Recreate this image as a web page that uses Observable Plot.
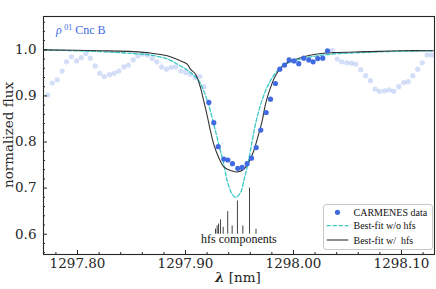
<!DOCTYPE html>
<html><head><meta charset="utf-8">
<script src="https://cdn.jsdelivr.net/npm/d3@7"></script>
<script src="https://cdn.jsdelivr.net/npm/@observablehq/plot@0.6"></script>
<style>
html,body{margin:0;padding:0;background:#fff;}
#chart{width:436px;height:289px;}
</style></head><body><div id="chart"></div>
<script>
// ---- data ----
const paleWl = [1297.7725,1297.7766,1297.7812,1297.7858,1297.7898,1297.7944,1297.7991,1297.8034,1297.8077,1297.8118,1297.8164,1297.8206,1297.8247,1297.8296,1297.8340,1297.8382,1297.8429,1297.8472,1297.8516,1297.8558,1297.8605,1297.8648,1297.8692,1297.8734,1297.8778,1297.8824,1297.8868,1297.8910,1297.8956,1297.9003,1297.9046,1297.9090,1297.9132,1297.9169,
  1298.0358,1298.0405,1298.0447,1298.0494,1298.0537,1298.0577,1298.0623,1298.0669,1298.0713,1298.0756,1298.0796,1298.0843,1298.0886,1298.0929,1298.0975,1298.1021,1298.1062,1298.1105,1298.1151,1298.1192,1298.1238,1298.1281];
const paleFlux = [0.902,0.928,0.935,0.954,0.974,0.985,0.976,0.983,0.992,0.982,0.965,0.949,0.942,0.946,0.949,0.954,0.963,0.967,0.978,0.987,0.991,0.989,0.981,0.974,0.963,0.958,0.962,0.963,0.954,0.951,0.947,0.940,0.942,0.920,
  0.999,0.980,0.974,0.972,0.971,0.969,0.957,0.944,0.933,0.915,0.910,0.911,0.913,0.910,0.920,0.929,0.931,0.944,0.958,0.972,0.989,0.989];

const dataWl = [1297.9216,1297.9262,1297.9303,1297.9355,1297.9392,1297.9435,1297.9484,1297.9525,1297.9571,1297.9611,1297.9655,1297.9697,1297.9747,1297.9787,1297.9833,1297.9873,1297.9917,1297.9960,1298.0006,1298.0049,1298.0095,1298.0142,1298.0182,1298.0225,1298.0271,1298.0315];
const dataFlux = [0.886,0.842,0.790,0.763,0.761,0.753,0.743,0.745,0.753,0.765,0.788,0.826,0.864,0.893,0.927,0.958,0.967,0.978,0.976,0.970,0.982,0.978,0.974,0.981,0.982,0.998];

const fitHfsWl = [1297.7688,1297.8213,1297.8519,1297.8676,1297.8831,1297.8954,1297.9016,1297.9046,1297.9093,1297.9139,1297.9169,1297.9201,1297.9231,1297.9262,1297.9308,1297.9355,1297.9417,1297.9479,1297.9540,1297.9586,1297.9632,1297.9669,1297.9710,1297.9741,1297.9787,1297.9833,1297.9880,1297.9942,1298.0065,1298.0219,1298.0373,1298.0682,1298.0991,1298.1296];
const fitHfsFlux = [1.000,0.998,0.996,0.993,0.987,0.976,0.969,0.958,0.947,0.918,0.889,0.857,0.824,0.795,0.766,0.746,0.738,0.735,0.741,0.756,0.781,0.810,0.846,0.882,0.918,0.944,0.960,0.972,0.983,0.991,0.994,0.996,0.998,0.998];

const fitNoHfsWl = [1297.7685,1297.8213,1297.8519,1297.8676,1297.8831,1297.8954,1297.9046,1297.9123,1297.9169,1297.9216,1297.9262,1297.9308,1297.9355,1297.9386,1297.9432,1297.9463,1297.9509,1297.9540,1297.9577,1297.9618,1297.9648,1297.9688,1297.9741,1297.9787,1297.9849,1297.9926,1298.0065,1298.0219,1298.0373,1298.0528,1298.0833,1298.1296];
const fitNoHfsFlux = [1.000,0.996,0.992,0.9885,0.980,0.965,0.951,0.933,0.911,0.879,0.839,0.795,0.752,0.716,0.687,0.680,0.690,0.716,0.752,0.803,0.839,0.875,0.911,0.933,0.954,0.969,0.980,0.987,0.991,0.993,0.996,0.998];

const hfsWl = [1297.9278,1297.9293,1297.9306,1297.9324,1297.9349,1297.9391,1297.9432,1297.9481,1297.9531,1297.9593,1297.9653];
const hfsStrength = [0.011,0.018,0.022,0.031,0.015,0.049,0.018,0.072,0.018,0.100,0.011];
const hfsBase = 0.60;

const xMajor = [1297.80,1297.90,1298.00,1298.10];
const xMinor = [1297.78,1297.82,1297.84,1297.86,1297.88,1297.92,1297.94,1297.96,1297.98,1298.02,1298.04,1298.06,1298.08,1298.12];
const yMajor = [0.6,0.7,0.8,0.9,1.0];
const yMinor = [0.56,0.58,0.62,0.64,0.66,0.68,0.72,0.74,0.76,0.78,0.82,0.84,0.86,0.88,0.92,0.94,0.96,0.98,1.02,1.04,1.06];

const zip = (xs, ys) => xs.map((x, i) => ({x, y: ys[i]}));
const pale = zip(paleWl, paleFlux);
const obs = zip(dataWl, dataFlux);
const fitHfs = zip(fitHfsWl, fitHfsFlux);
const fitNoHfs = zip(fitNoHfsWl, fitNoHfsFlux);
const hfs = hfsWl.map((x, i) => ({x, s: hfsStrength[i]}));

const BLUE = "#4169e1", CYAN = "#38c7c7", DARK = "#333333", AX = "#262626";
const FONT = "DejaVu Serif";

const chart = Plot.plot({
  width: 436, height: 289,
  marginLeft: 43, marginRight: 2, marginTop: 16, marginBottom: 35,
  style: {fontFamily: FONT, fontSize: "13.5px", color: AX},
  x: {domain: [1297.7685, 1298.1306]},
  y: {domain: [0.556, 1.0723]},
  marks: [
    Plot.dot(pale, {x: "x", y: "y", r: 2.6, fill: BLUE, fillOpacity: 0.22, stroke: "none"}),
    Plot.ruleX(hfs, {x: "x", y1: hfsBase, y2: d => hfsBase + d.s, stroke: "#444", strokeWidth: 1}),
    Plot.text(["hfs components"], {x: 1297.9495, y: 0.589, fontFamily: "Liberation Serif", fontSize: 12, fill: "#111"}),
    Plot.line(fitNoHfs, {x: "x", y: "y", stroke: CYAN, strokeWidth: 1.3, strokeDasharray: "4,2", curve: "catmull-rom"}),
    Plot.line(fitHfs, {x: "x", y: "y", stroke: DARK, strokeWidth: 1.1, curve: "catmull-rom"}),
    Plot.dot(obs, {x: "x", y: "y", r: 2.6, fill: BLUE, stroke: "none"}),
    Plot.axisX({ticks: xMinor, tickSize: -2, text: null, label: null, stroke: AX}),
    Plot.axisX({ticks: xMajor, tickSize: -4, text: null, label: null, stroke: AX}),
    Plot.axisX({ticks: xMajor, tickSize: 0, tickPadding: 4, tickFormat: d3.format(".2f"), label: null, fill: AX}),
    Plot.axisY({ticks: yMinor, tickSize: -2, text: null, label: null, stroke: AX}),
    Plot.axisY({ticks: yMajor, tickSize: -4, text: null, label: null, stroke: AX}),
    Plot.axisY({ticks: yMajor, tickSize: 0, tickPadding: 7, tickFormat: d3.format(".1f"), label: null, fill: AX}),
    Plot.frame({stroke: AX, strokeWidth: 1.1})
  ]
});
document.getElementById("chart").appendChild(chart);

// ---- annotations, axis titles and legend ----
const svg = d3.select(chart);
const star = svg.append("text").attr("x", 56).attr("y", 33.5).attr("text-anchor", "start")
  .attr("font-family", "Liberation Serif").attr("font-size", 12).attr("fill", BLUE);
star.append("tspan").attr("font-style", "italic").text("ρ");
star.append("tspan").attr("font-size", 8).attr("dx", 2.5).attr("dy", -4).text("01");
star.append("tspan").attr("dy", 4).style("white-space", "pre").text(" Cnc B");

const xl = svg.append("text").attr("x", 238).attr("y", 281.5).attr("text-anchor", "middle")
  .attr("font-family", FONT).attr("font-size", 13.5).attr("fill", AX);
xl.append("tspan").attr("font-weight", "bold").attr("font-style", "italic").text("λ");
xl.append("tspan").style("white-space", "pre").text(" [nm]");

svg.append("text").attr("transform", "translate(13,135) rotate(-90)").attr("text-anchor", "middle")
  .attr("font-family", FONT).attr("font-size", 13.5).attr("fill", AX).text("normalized flux");

const lg = svg.append("g").attr("font-family", "Liberation Serif").attr("font-size", 10)
  .attr("fill", "#111").attr("text-anchor", "start");
lg.append("rect").attr("x", 323.5).attr("y", 204.5).attr("width", 109).attr("height", 45).attr("rx", 2.5)
  .attr("fill", "#fff").attr("fill-opacity", 0.85).attr("stroke", "#c8c8c8");
lg.append("circle").attr("cx", 337.5).attr("cy", 212.3).attr("r", 2.6).attr("fill", BLUE);
lg.append("line").attr("x1", 326.7).attr("x2", 348.3).attr("y1", 225.7).attr("y2", 225.7)
  .attr("stroke", CYAN).attr("stroke-width", 1.3).attr("stroke-dasharray", "4,2");
lg.append("line").attr("x1", 326.7).attr("x2", 348.3).attr("y1", 240).attr("y2", 240)
  .attr("stroke", DARK).attr("stroke-width", 1.1);
[["CARMENES data", 212.3], ["Best-fit w/o hfs", 225.7], ["Best-fit w/  hfs", 240]].forEach(([t, y]) => {
  lg.append("text").attr("x", 353.5).attr("y", y).attr("dy", "0.35em").attr("text-anchor", "start")
    .style("white-space", "pre").text(t);
});
</script>
</body></html>
